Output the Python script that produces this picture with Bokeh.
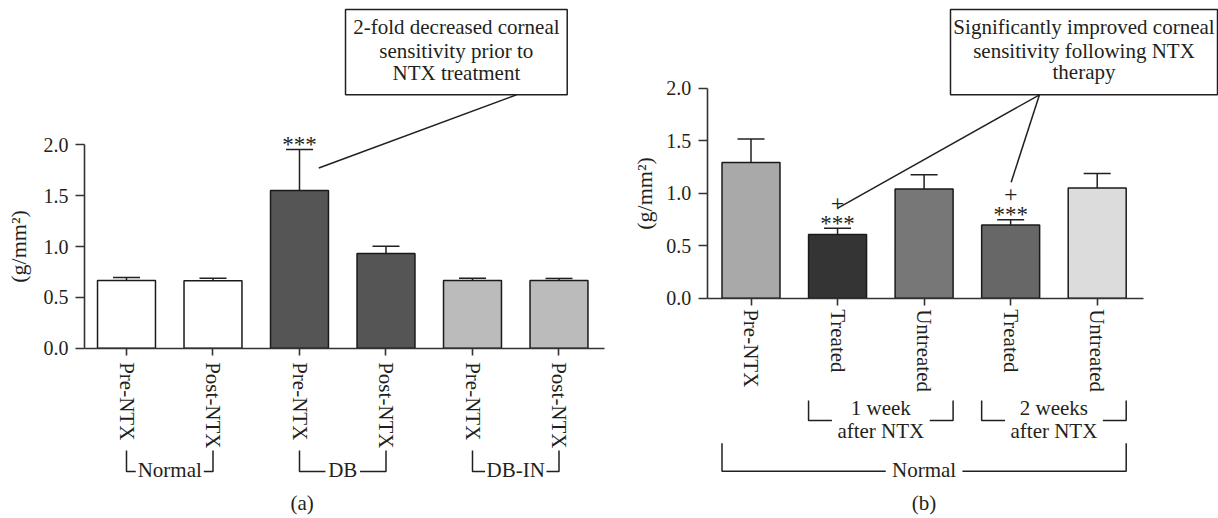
import numpy as np
from bokeh.plotting import figure
from bokeh.layouts import row
from bokeh.models import LinearAxis, FixedTicker, NumeralTickFormatter
from bokeh.core.properties import value
from bokeh.embed import file_html
from bokeh.resources import INLINE

FONT = "Liberation Serif"
INK = "#231f20"
AXC = "#333333"
TXT_SHIFT = -7  # screen px correction for baseline placement

# ---------------- data: panel (a) ----------------
a_labels = ["Pre-NTX", "Post-NTX", "Pre-NTX", "Post-NTX", "Pre-NTX", "Post-NTX"]
a_groups = ["Normal", "DB", "DB-IN"]
a_values = [0.666, 0.663, 1.55, 0.93, 0.665, 0.665]
a_errors = [0.028, 0.025, 0.405, 0.072, 0.023, 0.021]
a_stars = ["", "", "***", "", "", ""]
a_colors = ["#ffffff", "#ffffff", "#555555", "#555555", "#bbbbbb", "#bbbbbb"]
a_note = ["2-fold decreased corneal", "sensitivity prior to", "NTX treatment"]
a_caption = "(a)"

# ---------------- data: panel (b) ----------------
b_labels = ["Pre-NTX", "Treated", "Untreated", "Treated", "Untreated"]
b_groups = [["1 week", "after NTX"], ["2 weeks", "after NTX"]]
b_outer = "Normal"
b_values = [1.293, 0.607, 1.04, 0.697, 1.05]
b_errors = [0.222, 0.06, 0.135, 0.05, 0.138]
b_stars = ["", "***", "", "***", ""]
b_plus = ["", "+", "", "+", ""]
b_colors = ["#a9a9a9", "#333433", "#777777", "#676767", "#dcdcdc"]
b_note = ["Significantly improved corneal", "sensitivity following NTX", "therapy"]
b_caption = "(b)"

y_ticks = [0.0, 0.5, 1.0, 1.5, 2.0]
y_title = "(g/mm\u00b2)"

BAR_W = 0.67
CAP_HALF = 0.156


def base_fig(w, h, xr, yr):
    p = figure(width=w, height=h, x_range=xr, y_range=yr, x_axis_type=None,
               y_axis_type=None, toolbar_location=None, output_backend="svg",
               min_border=0, title=None)
    p.outline_line_color = None
    p.background_fill_color = "white"
    p.border_fill_color = "white"
    return p


def add_axes(p, yloc, xbounds, labels, tick_standoff, title_standoff):
    ya = LinearAxis(fixed_location=yloc, bounds=(0, 2),
                    ticker=FixedTicker(ticks=y_ticks),
                    formatter=NumeralTickFormatter(format="0.0"),
                    axis_label=y_title)
    ya.axis_label_text_font = FONT
    ya.axis_label_text_font_size = "22px"
    ya.axis_label_text_font_style = "normal"
    ya.axis_label_text_color = INK
    ya.axis_label_standoff = title_standoff
    ya.major_label_text_font = FONT
    ya.major_label_text_font_size = "20px"
    ya.major_label_text_color = INK
    ya.major_label_standoff = 7
    ya.major_tick_out = 9
    ya.major_tick_in = 0
    ya.minor_tick_out = 0
    ya.axis_line_color = AXC
    ya.axis_line_width = 1.6
    ya.major_tick_line_color = AXC
    ya.major_tick_line_width = 1.6
    p.add_layout(ya, "left")

    xa = LinearAxis(fixed_location=0, bounds=xbounds,
                    ticker=FixedTicker(ticks=list(range(len(labels)))),
                    major_label_overrides={i: t for i, t in enumerate(labels)})
    xa.major_label_orientation = "vertical"
    xa.major_label_text_font = FONT
    xa.major_label_text_font_size = "21px"
    xa.major_label_text_color = INK
    xa.major_label_standoff = tick_standoff
    xa.major_tick_out = 7
    xa.major_tick_in = 0
    xa.minor_tick_out = 0
    xa.axis_line_color = AXC
    xa.axis_line_width = 1.6
    xa.major_tick_line_color = AXC
    xa.major_tick_line_width = 1.6
    p.add_layout(xa, "below")


def add_bars(p, vals, errs, colors):
    idx = np.arange(len(vals))
    v = np.array(vals)
    top = v + np.array(errs)
    p.segment(x0=idx, y0=v, x1=idx, y1=top, line_color=INK, line_width=1.5)
    p.segment(x0=idx - CAP_HALF, y0=top, x1=idx + CAP_HALF, y1=top,
              line_color=INK, line_width=1.5)
    p.vbar(x=idx, top=v, width=BAR_W, fill_color=colors, line_color="#1a1a1a",
           line_width=1.5)
    return idx, top


def txt(p, x, y, t, size="21px", align="center", baseline="alphabetic", dy=0):
    p.text(x=x, y=y, text=t, text_font=value(FONT), text_font_size=size,
           text_color=INK, text_align=align, text_baseline=baseline,
           y_offset=TXT_SHIFT + dy)


def note_box(p, left, right, bottom, top, lines, baselines):
    p.quad(left=[left], right=[right], bottom=[bottom], top=[top],
           fill_color="white", line_color=INK, line_width=1.5)
    cx = (left + right) / 2
    txt(p, [cx] * len(lines), baselines, lines)


# ================= panel (a) =================
pa = base_fig(620, 518, (-1.4566, 5.711), (-1.6745, 3.4189))
add_axes(pa, -0.4855, (-0.4855, 5.529), a_labels, 7, 10)
idx_a, top_a = add_bars(pa, a_values, a_errors, a_colors)
txt(pa, idx_a, top_a, a_stars, size="23px", dy=2)

# group brackets
br_top, br_line = -1.006, -1.2124
gap_half = [0.393, 0.2, 0.355]
xs, ys = [], []
for g, name in enumerate(a_groups):
    l, r = 2 * g, 2 * g + 1
    m = (l + r) / 2
    xs += [[l, l, m - gap_half[g]], [m + gap_half[g], r, r]]
    ys += [[br_top, br_line, br_line], [br_line, br_line, br_top]]
pa.multi_line(xs=xs, ys=ys, line_color=INK, line_width=1.5)
txt(pa, [2 * g + 0.5 for g in range(len(a_groups))], [-1.2616] * len(a_groups), a_groups)
txt(pa, [2.03], [-1.591], [a_caption])

# leader + note
pa.segment(x0=[2.223], y0=[1.772], x1=[4.509], y1=[2.4916], line_color=INK, line_width=1.5)
note_box(pa, 2.532, 5.095, 2.4916, 3.330, a_note, [3.0914, 2.8555, 2.642])

# ================= panel (b) =================
pb = base_fig(598, 518, (-1.5078, 5.4015), (-2.098, 2.835))
add_axes(pb, -0.506, (-0.506, 4.535), b_labels, 4, 7)
idx_b, top_b = add_bars(pb, b_values, b_errors, b_colors)
txt(pb, idx_b, top_b, b_stars, size="23px", dy=2)
txt(pb, idx_b, top_b, b_plus, size="24px", dy=-18)

# week brackets
hw = BAR_W / 2
wk_top, wk_line = -0.974, -1.165
xs, ys = [], []
for k, (i, j) in enumerate([(1, 2), (3, 4)]):
    l, r = i - hw, j + hw
    xs += [[l, l, l + 0.27], [r - 0.27, r, r]]
    ys += [[wk_top, wk_line, wk_line], [wk_line, wk_line, wk_top]]
    txt(pb, [(l + r) / 2] * 2, [-1.117, -1.330], b_groups[k])
# outer bracket
l, r = -hw, 4 + hw
m = (l + r) / 2
xs += [[l, l, m - 0.443], [m + 0.443, r, r]]
ys += [[-1.381, -1.648, -1.648], [-1.648, -1.648, -1.381]]
pb.multi_line(xs=xs, ys=ys, line_color=INK, line_width=1.5)
txt(pb, [m], [-1.705], [b_outer])
txt(pb, [2.0], [-2.017], [b_caption])

# leaders + note
pb.segment(x0=[1.003, 3.006], y0=[0.857, 1.105], x1=[3.333, 3.333], y1=[1.937, 1.937],
           line_color=INK, line_width=1.5)
note_box(pb, 2.305, 5.39, 1.937, 2.7495, b_note, [2.518, 2.290, 2.088])

layout = row(pa, pb, spacing=0)
open("out.html", "w").write(file_html(layout, INLINE))
